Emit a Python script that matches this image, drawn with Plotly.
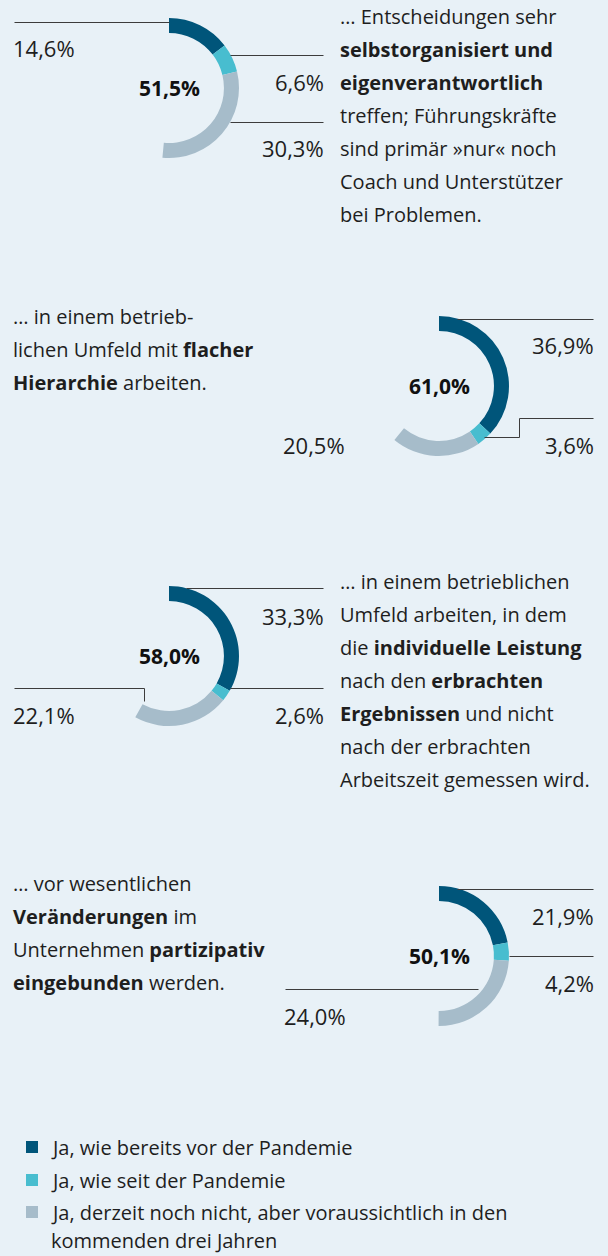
import plotly.graph_objects as go

# ---------------- data ----------------
series_names = [
    "Ja, wie bereits vor der Pandemie",
    "Ja, wie seit der Pandemie",
    "Ja, derzeit noch nicht, aber voraussichtlich in den",
]
legend_wrap = "kommenden drei Jahren"

vor_pandemie = [14.6, 36.9, 33.3, 21.9]
seit_pandemie = [6.6, 3.6, 2.6, 4.2]
voraussichtlich = [30.3, 20.5, 22.1, 24.0]

texts = [
    ["… Entscheidungen sehr", "<b>selbstorganisiert und</b>", "<b>eigenverantwortlich</b>",
     "treffen; Führungskräfte", "sind primär »nur« noch", "Coach und Unterstützer",
     "bei Problemen."],
    ["… in einem betrieb-", "lichen Umfeld mit <b>flacher</b>", "<b>Hierarchie</b> arbeiten."],
    ["… in einem betrieblichen", "Umfeld arbeiten, in dem", "die <b>individuelle Leistung</b>",
     "nach den <b>erbrachten</b>", "<b>Ergebnissen</b> und nicht", "nach der erbrachten",
     "Arbeitszeit gemessen wird."],
    ["… vor wesentlichen", "<b>Veränderungen</b> im", "Unternehmen <b>partizipativ</b>",
     "<b>eingebunden</b> werden."],
]

# ---------------- style / layout ----------------
W, H = 608, 1256
BG = "#E8F1F7"
COLORS = ["#00557A", "#48BDCF", "#A6BCCA"]
LINE = "#3C3C3C"
TXT = "#1E1E1E"
FONT = "Open Sans"
R = 70
HOLE = 0.785
PAD = 3  # compensate annotation box padding

centers = [(169, 88), (439, 386), (169, 656), (439, 956)]

# text block placement: (x, first line y)
text_pos = [(341, 16), (14, 316), (341, 581), (14, 883)]
LINE_H = 33

# leader lines per donut: polylines in pixel coords
leaders = [
    [[(14, 22), (169, 22)], [(230, 55), (323, 55)], [(230, 122), (323, 122)]],
    [[(457, 319), (593, 319)], [(484, 437), (519, 437), (519, 418), (593, 418)]],
    [[(186, 588), (323, 588)], [(230, 688), (323, 688)], [(14, 688), (144, 688), (144, 701)]],
    [[(457, 889), (593, 889)], [(509, 956), (593, 956)], [(285, 989), (478, 989)]],
]
# value label positions: (x, y, anchor) for series 0,1,2
label_pos = [
    [(14, 48, "left"), (323, 82, "right"), (323, 148, "right")],
    [(593, 345, "right"), (593, 445, "right"), (284, 445, "left")],
    [(323, 616, "right"), (323, 715, "right"), (14, 715, "left")],
    [(593, 916, "right"), (593, 983, "right"), (285, 1016, "left")],
]


def fmt(v):
    return f"{v:.1f}".replace(".", ",") + "%"


def ax(x, anchor):
    return x - PAD if anchor == "left" else (x + PAD if anchor == "right" else x)


fig = go.Figure()
annotations = []
shapes = []

for i, (cx, cy) in enumerate(centers):
    vals = [vor_pandemie[i], seit_pandemie[i], voraussichtlich[i]]
    total = round(sum(vals), 1)
    fig.add_trace(go.Pie(
        values=vals + [round(100 - total, 1)],
        labels=series_names + ["Rest"],
        sort=False,
        direction="clockwise",
        rotation=0,
        hole=HOLE,
        marker=dict(colors=COLORS + ["rgba(0,0,0,0)"], line=dict(width=0)),
        textinfo="none",
        hoverinfo="skip",
        showlegend=False,
        domain=dict(
            x=[(cx - R) / W, (cx + R) / W],
            y=[1 - (cy + R) / H, 1 - (cy - R) / H],
        ),
    ))
    annotations.append(dict(
        x=cx, y=cy, xref="x", yref="y", text=f"<b>{fmt(total)}</b>",
        showarrow=False, xanchor="center", yanchor="middle",
        font=dict(family=FONT, size=21, color="#111111"),
    ))
    for j, (lx, ly, anc) in enumerate(label_pos[i]):
        annotations.append(dict(
            x=ax(lx, anc), y=ly, xref="x", yref="y", text=fmt(vals[j]),
            showarrow=False, xanchor=anc, yanchor="middle",
            font=dict(family=FONT, size=22, color=TXT),
        ))
    for poly in leaders[i]:
        path = "M " + " L ".join(f"{x + 0.5},{y + 0.5}" for x, y in poly)
        shapes.append(dict(type="path", path=path, xref="x", yref="y",
                           line=dict(color=LINE, width=1)))
    tx, ty = text_pos[i]
    for k, line in enumerate(texts[i]):
        annotations.append(dict(
            x=ax(tx, "left"), y=ty + k * LINE_H, xref="x", yref="y", text=line,
            showarrow=False, xanchor="left", yanchor="middle",
            font=dict(family=FONT, size=20, color=TXT),
        ))

# legend
leg_y = [1147, 1180, 1212]
for k, name in enumerate(series_names):
    shapes.append(dict(type="rect", xref="x", yref="y",
                       x0=26, x1=38, y0=leg_y[k] - 6, y1=leg_y[k] + 6,
                       fillcolor=COLORS[k], line=dict(width=0)))
    annotations.append(dict(
        x=ax(52, "left"), y=leg_y[k], xref="x", yref="y", text=name,
        showarrow=False, xanchor="left", yanchor="middle",
        font=dict(family=FONT, size=20, color=TXT),
    ))
annotations.append(dict(
    x=ax(52, "left"), y=1240, xref="x", yref="y", text=legend_wrap,
    showarrow=False, xanchor="left", yanchor="middle",
    font=dict(family=FONT, size=20, color=TXT),
))

fig.update_layout(
    width=W, height=H,
    margin=dict(l=0, r=0, t=0, b=0),
    paper_bgcolor=BG, plot_bgcolor=BG,
    xaxis=dict(range=[0, W], visible=False, fixedrange=True),
    yaxis=dict(range=[H, 0], visible=False, fixedrange=True),
    annotations=annotations,
    shapes=shapes,
    showlegend=False,
)

fig.write_html("out.html", config={"displayModeBar": False},
               post_script="document.body.style.margin='0';")
